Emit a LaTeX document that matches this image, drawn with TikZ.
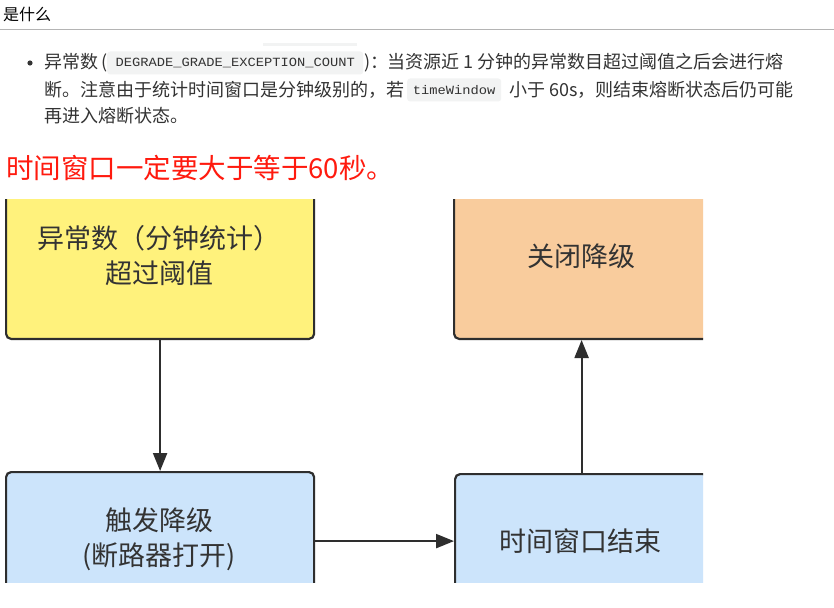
\documentclass[tikz,border=0pt]{standalone}
\usepackage{fontspec}
\usepackage{graphicx}
\setmainfont{Noto Sans CJK SC}
\newfontfamily\codefont{Liberation Mono}
\usetikzlibrary{arrows.meta}
\definecolor{txt}{HTML}{333333}
\definecolor{edge}{HTML}{2E2E2E}
\definecolor{yelfill}{HTML}{FFF27C}
\definecolor{orafill}{HTML}{F9CC9D}
\definecolor{bluefill}{HTML}{CCE4FB}
\definecolor{codebg}{HTML}{F2F3F3}
\definecolor{rulegray}{HTML}{B4B4B4}
\definecolor{redtxt}{HTML}{FF1A0E}
\begin{document}
\begin{tikzpicture}[x=1pt,y=-1pt,
  bodytext/.style={inner sep=0pt, text=txt, font=\fontsize{18}{22}\selectfont},
  codebox/.style={fill=codebg, rounded corners=3pt, inner sep=0pt, text=txt},
  stepbox/.style={draw=edge, line width=2.2pt, rounded corners=5pt, inner sep=0pt},
  boxtext/.style={inner sep=0pt, text=txt, align=center, font=\fontsize{27}{35}\selectfont},
  conn/.style={draw=edge, line width=2.2pt, -{Triangle[length=18pt,width=14pt]}}
]
\useasboundingbox (0,0) rectangle (834,607);
\fill[white] (0,0) rectangle (834,607);

% header
\node[inner sep=0pt, anchor=base west, font=\fontsize{16}{20}\selectfont, text=black] (hdr) at (3,21) {是什么};
\draw[rulegray, line width=1pt] (0,30) -- (834,30);
\fill[codebg] (263,43) rectangle (357,46);

% bullet text
\fill[txt] (30,63) circle (2.6);
\node[bodytext, anchor=base west] (l1a) at (44,69) {异常数};
\node[bodytext, anchor=base west] (l1b) at (101,69) {(};
\node[codebox, minimum width=256, minimum height=23, anchor=west] (c1) at (107,63)
  {\scalebox{1.1}[1]{\codefont\fontsize{12.5}{14}\selectfont DEGRADE\_GRADE\_EXCEPTION\_COUNT}};
\node[bodytext, anchor=base west] (l1c) at (364,69) {)：};
\node[bodytext, anchor=base west] (l1d) at (387,69) {当资源近 1 分钟的异常数目超过阈值之后会进行熔};
\node[bodytext, anchor=base west] (l2a) at (44,96) {断。注意由于统计时间窗口是分钟级别的，若};
\node[codebox, minimum width=94, minimum height=23, anchor=west] (c2) at (407,90)
  {\scalebox{1.1}[1]{\codefont\fontsize{12.5}{14}\selectfont timeWindow}};
\node[bodytext, anchor=base west] (l2b) at (509,96) {小于 60s，则结束熔断状态后仍可能};
\node[bodytext, anchor=base west] (l3) at (44,122) {再进入熔断状态。};

% red note
\node[inner sep=0pt, anchor=base west, text=redtxt, font=\fontsize{27.5}{32}\selectfont] (note) at (6,178) {时间窗口一定要大于等于60秒。};

% diagram (clipped like the screenshot)
\begin{scope}
\clip (0,199) rectangle (703,582);
\node[stepbox, fill=yelfill, minimum width=308, minimum height=170, anchor=south west] (abn) at (5,340) {};
\node[stepbox, fill=orafill, minimum width=256, minimum height=170, anchor=south west] (close) at (453,340) {};
\node[stepbox, fill=bluefill, minimum width=308, minimum height=138, anchor=north west] (trig) at (5,471) {};
\node[stepbox, fill=bluefill, minimum width=253, minimum height=134, anchor=north west] (tw) at (454,473) {};

\node[boxtext] (abnt) at (159,255.5) {异常数（分钟统计）\\超过阈值};
\node[boxtext] (closet) at (581,256) {关闭降级};
\node[boxtext] (trigt) at (159,539.5) {触发降级\\(断路器打开)};
\node[boxtext] (twt) at (580,541) {时间窗口结束};

\draw[conn] (abn.south) -- (trig.north);
\draw[conn] (trig.east) -- (tw.west);
\draw[conn] (tw.north) -- (tw.north |- close.south);
\end{scope}
\end{tikzpicture}
\end{document}
